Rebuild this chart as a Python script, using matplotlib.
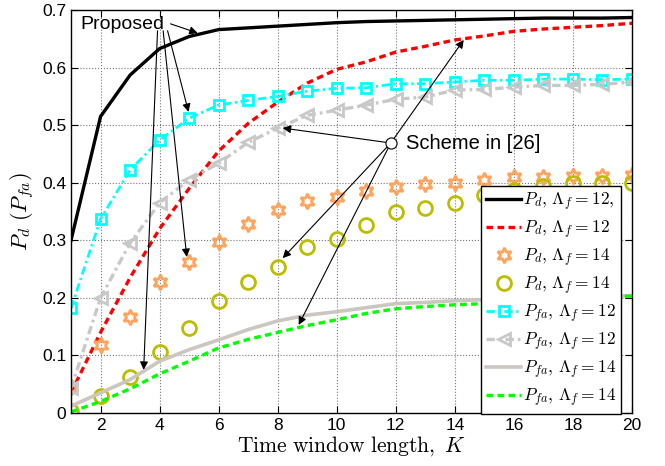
import numpy as np
import matplotlib
matplotlib.use('Agg')
import matplotlib.pyplot as plt

plt.rcParams['font.family'] = ['Liberation Sans', 'DejaVu Sans']
plt.rcParams['mathtext.fontset'] = 'cm'

# ---- data ----
K = np.arange(1, 21)

pd12_prop = [0.300, 0.515, 0.587, 0.633, 0.654, 0.666, 0.669, 0.672, 0.675, 0.678,
             0.680, 0.681, 0.682, 0.683, 0.684, 0.685, 0.686, 0.686, 0.686, 0.687]
pd12_ref = [0.035, 0.140, 0.235, 0.320, 0.390, 0.455, 0.503, 0.540, 0.573, 0.597,
            0.610, 0.627, 0.637, 0.648, 0.655, 0.663, 0.667, 0.670, 0.673, 0.677]
pd14_prop = [0.045, 0.118, 0.167, 0.227, 0.262, 0.297, 0.328, 0.352, 0.368, 0.375,
             0.385, 0.392, 0.397, 0.400, 0.405, 0.410, 0.410, 0.411, 0.411, 0.413]
pd14_ref = [0.003, 0.030, 0.062, 0.106, 0.147, 0.195, 0.228, 0.254, 0.288, 0.303,
            0.327, 0.349, 0.356, 0.364, 0.378, 0.388, 0.395, 0.399, 0.399, 0.400]
pfa12_prop = [0.182, 0.337, 0.422, 0.474, 0.512, 0.535, 0.543, 0.550, 0.559, 0.564,
              0.565, 0.572, 0.572, 0.575, 0.578, 0.578, 0.580, 0.580, 0.579, 0.580]
pfa12_ref = [0.043, 0.200, 0.295, 0.365, 0.405, 0.434, 0.470, 0.495, 0.517, 0.526,
             0.535, 0.545, 0.549, 0.561, 0.562, 0.566, 0.569, 0.569, 0.571, 0.575]
pfa14_prop = [0.012, 0.035, 0.058, 0.090, 0.110, 0.127, 0.145, 0.160, 0.170, 0.176,
              0.183, 0.190, 0.192, 0.195, 0.197, 0.198, 0.200, 0.201, 0.202, 0.204]
pfa14_ref = [0.002, 0.020, 0.042, 0.068, 0.090, 0.113, 0.128, 0.140, 0.152, 0.162,
             0.173, 0.181, 0.185, 0.188, 0.190, 0.194, 0.197, 0.200, 0.202, 0.203]

labels = [r'$P_d,\, \Lambda_f = 12,$', r'$P_d,\, \Lambda_f = 12$',
          r'$P_d,\, \Lambda_f = 14$', r'$P_d,\, \Lambda_f = 14$',
          r'$P_{fa},\, \Lambda_f = 12$', r'$P_{fa},\, \Lambda_f = 12$',
          r'$P_{fa},\, \Lambda_f = 14$', r'$P_{fa},\, \Lambda_f = 14$']

fig = plt.figure(figsize=(6.65, 4.66), dpi=100)
ax = fig.add_axes([0.1068, 0.1137, 0.8436, 0.8648])

ax.plot(K, pd12_prop, color='k', lw=2.4, label=labels[0])
ax.plot(K, pd12_ref, color='red', lw=2.4, dashes=(2, 1.3), label=labels[1])
ax.plot(K, pd14_prop, ls='none', marker=(6, 1, 0), ms=11, mfc='none',
        mec='#FFA45C', mew=2, label=labels[2])
ax.plot(K, pd14_ref, ls='none', marker='o', ms=10, mfc='none',
        mec='#BDBD00', mew=2, label=labels[3])
ax.plot(K, pfa12_prop, color='cyan', lw=2, dashes=(3, 1.3, 0.8, 1.3),
        marker='s', ms=7, mfc='none', mew=2, label=labels[4])
ax.plot(K, pfa12_ref, color='#C8C8C8', lw=2.4, dashes=(2.5, 1.2, 0.8, 1.2),
        marker='<', ms=9, mfc='none', mew=2, label=labels[5])
ax.plot(K, pfa14_prop, color='#CBC6C0', lw=2.6, label=labels[6])
ax.plot(K, pfa14_ref, color='#00FF00', lw=2.4, dashes=(2, 1.3), label=labels[7])

ax.set_xlim(1, 20)
ax.set_ylim(0, 0.7)
ax.set_xticks(np.arange(2, 21, 2))
ax.set_yticks(np.arange(0, 0.71, 0.1))
ax.set_yticklabels(['0', '0.1', '0.2', '0.3', '0.4', '0.5', '0.6', '0.7'])
ax.tick_params(direction='in', top=True, right=True, labelsize=12.5, length=5)
ax.grid(True, linestyle=':', color='#777777', lw=0.8)
for s in ax.spines.values():
    s.set_linewidth(1.0)

ax.set_xlabel(r'$\mathrm{Time\ window\ length,}\ K$', fontsize=15.5, labelpad=1)
ax.set_ylabel(r'$P_d\ (P_{fa})$', fontsize=16, labelpad=4)

# annotations
arw = dict(arrowstyle='-|>', lw=0.8, color='k', mutation_scale=12, shrinkA=0, shrinkB=0)
ax.text(1.32, 0.675, 'Proposed', fontsize=14, va='center', ha='left')
ax.annotate('', xy=(5.29, 0.660), xytext=(4.37, 0.676), arrowprops=arw)
ax.annotate('', xy=(4.98, 0.523), xytext=(4.27, 0.664), arrowprops=arw)
ax.annotate('', xy=(4.92, 0.271), xytext=(4.12, 0.664), arrowprops=arw)
ax.annotate('', xy=(3.46, 0.075), xytext=(3.93, 0.664), arrowprops=arw)

cx, cy = 11.83, 0.469
for tx, ty in [(14.3, 0.648), (8.17, 0.495), (8.17, 0.269), (8.71, 0.153)]:
    ax.annotate('', xy=(tx, ty), xytext=(cx, cy), arrowprops=arw)
ax.plot([cx], [cy], marker='o', ms=8, mfc='white', mec='k', mew=0.8, zorder=5)
ax.text(12.35, 0.469, 'Scheme in [26]', fontsize=14.5, va='center', ha='left')

leg = ax.legend(loc='upper right', bbox_to_anchor=(0.981, 0.563), fontsize=12.5,
                fancybox=False, framealpha=1, edgecolor='k', handlelength=2.0,
                handletextpad=0.1, labelspacing=0.33, borderpad=0.3,
                borderaxespad=0)
leg.get_frame().set_linewidth(1.0)

fig.savefig('out.png', dpi=100)
